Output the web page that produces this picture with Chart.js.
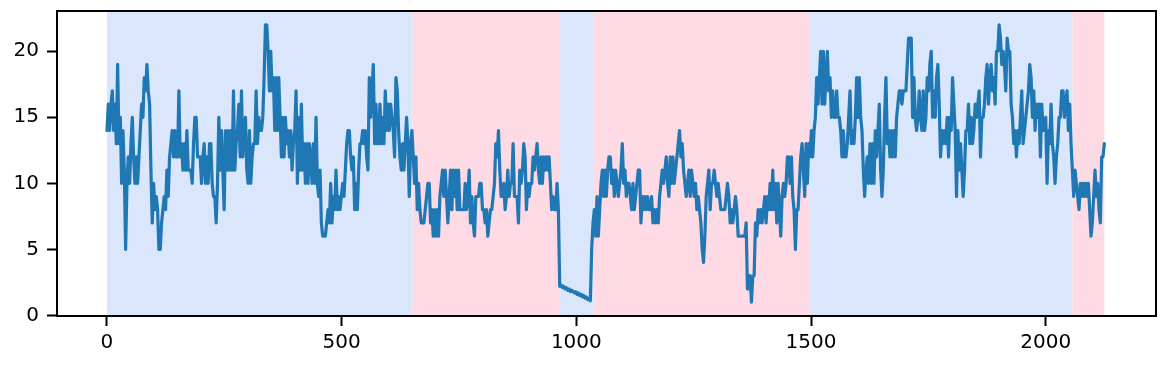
<!DOCTYPE html>
<html>
<head>
<meta charset="utf-8">
<script src="https://cdn.jsdelivr.net/npm/chart.js@4.4.1/dist/chart.umd.min.js"></script>
<style>
  html, body { margin: 0; padding: 0; background: #fff; }
  #wrap { width: 1165px; height: 366px; }
</style>
</head>
<body>
<div id="wrap"><canvas id="c" width="1165" height="366"></canvas></div>
<script>
// samples, one every SAMPLE_STEP x-units starting at x=0
const SAMPLE_STEP = 2.837;
const sampleValues = [
  // 0 .. ~220
  14,16,14,16,17,14,16,13,19,13, 15,10,14,11,5,10,12,10,13,15, 12,10,12,10,12,14,16,15,18,17,
  19,17,16,11,7,10,8,9,8,5, 5,7,8,9,8,11,9,12,13,14, 12,14,12,12,17,12,13,11,13,11,
  14,11,11,11,10,13,15,15,12,12, 12,10,12,13,10,12,10,13,
  // ~220 .. ~435
  13,10,9,9,7,10,15,11,14,11, 8,14,11,14,11,14,11,17,11,13, 14,16,12,17,12,14,15,11,10,14,
  10,12,13,13,17,13,15,14,14,15, 18,22,22,20,17,20,17,18,14,18, 14,18,15,12,15,12,15,13,14,12,
  14,11,13,14,17,10,15,11,16,11, 13,10,13,10,13,
  // ~435 .. ~645
  12,10,13,10,15,10,9,11,7,6, 6,6,7,8,7,10,7,9,8,11, 8,9,8,9,10,9,11,13,14,14,
  12,11,12,8,10,8,11,13,13,14, 13,14,12,11,18,15,17,19,13,16, 13,13,16,13,15,13,17,14,16,14,
  16,15,14,12,18,17,14,12,11,13, 11,13,15,13,9,
  // ~645 .. ~860
  13,14,12,10,12,8,10,8,7,7, 7,8,9,10,10,7,8,6,8,6, 8,6,9,10,11,9,11,9,7,9,
  11,8,11,9,11,8,11,8,8,8, 8,10,8,9,11,7,9,7,6,9, 9,9,10,10,8,8,7,8,6,7,
  8,8,9,10,13,12,14,11,9,9, 10,8,9,11,9,
  // ~860 .. ~1070
  10,10,13,9,9,9,7,11,10,11, 13,12,8,10,9,10,10,12,11,12, 13,11,10,12,10,12,11,12,11,12,
  10,8,9,8,8,10,8,
  2.2,2.3,2.1,2.2,2.0,2.1,1.9,2.0,1.8,1.9,1.8,1.7,1.8,1.6,1.7,1.5,1.6,1.4,1.5,1.3,1.4,1.2,1.3,1.1,
  5,7,8,6,9,6,8,10,11,9, 11,9,11,12,
  // ~1070 .. ~1285
  12,10,11,9,11,10,9,10,11,13, 10,11,9,10,10,9,8,10,8,9, 10,11,11,7,9,8,9,8,9,8,
  8,9,7,8,7,8,7,9,10,11, 10,11,12,10,9,12,10,12,10,11, 12,13,14,12,13,11,10,9,10,11,
  9,11,10,9,10,8,9,8,7,5, 4,6,9,10,11,
  // ~1285 .. ~1495
  8,10,10,11,10,9,10,9,8,8, 8,8,9,10,9,7,8,7,8,9, 8,6,6,6,6,6,6,7,2,2,
  3,1,3,3,7,6,8,7,8,7, 8,9,7,9,8,10,8,11,8,10, 7,10,8,6,9,10,9,10,12,12,
  10,12,9,8,5,8,8,10,12,13, 11,9,13,10,13,
  // ~1495 .. ~1710
  12,14,12,14,15,18,16,18,20,16, 20,16,18,20,17,18,15,17,15,15, 17,15,15,14,12,14,12,12,13,15,
  17,13,14,13,15,18,15,18,15,14, 11,9,11,12,10,13,10,13,10,14, 12,14,16,11,9,11,15,18,13,14,
  12,14,12,14,12,15,16,17,17,16, 17,17,17,19,21,
  // ~1710 .. ~1920
  21,21,15,18,15,14,15,17,15,14, 17,14,15,18,17,19,20,15,17,15, 18,19,16,12,14,13,14,13,15,12,
  15,14,18,16,14,9,14,11,13,11, 9,11,14,14,16,13,15,13,14,16, 15,16,17,12,15,15,16,18,19,16,
  18,19,17,18,16,20,20,22,21,19, 20,19,17,21,20,
  // ~1920 .. end
  20,16,15,13,14,12,14,13,15,17, 13,14,15,16,17,19,18,15,17,14, 16,15,16,12,16,14,14,15,10,14,
  13,16,13,12,10,12,13,15,15,17, 17,15,16,17,14,16,13,11,9,11, 10,9,8,10,9,10,9,10,9,10,
  8,6,7,9,11,9,10,8,7,12, 12,13
];

// shaded regimes along x
const spanStart  = [0,   651, 963,  1036, 1496, 2057];
const spanEnd    = [651, 963, 1036, 1496, 2057, 2125];
const spanRegime = ['up', 'down', 'up', 'down', 'up', 'down'];

const xTicks = [0, 500, 1000, 1500, 2000];
const yTicks = [0, 5, 10, 15, 20];

const regimeColor = { up: 'rgb(218,230,252)', down: 'rgb(253,218,228)' };
const FONT = { family: 'DejaVu Sans', size: 20 };

const points = sampleValues.map((v, i) => ({ x: i * SAMPLE_STEP, y: v }));

const spansPlugin = {
  id: 'spans',
  beforeDatasetsDraw(chart) {
    const { ctx, chartArea: a, scales: { x } } = chart;
    ctx.save();
    spanStart.forEach((s, i) => {
      const x0 = x.getPixelForValue(s), x1 = x.getPixelForValue(spanEnd[i]);
      ctx.fillStyle = regimeColor[spanRegime[i]];
      ctx.fillRect(x0, a.top, x1 - x0, a.bottom - a.top);
    });
    ctx.restore();
  }
};

const framePlugin = {
  id: 'frame',
  afterDraw(chart) {
    const { ctx, chartArea: a } = chart;
    ctx.save();
    ctx.strokeStyle = '#000';
    ctx.lineWidth = 2;
    ctx.strokeRect(a.left, a.top, a.right - a.left, a.bottom - a.top);
    ctx.restore();
  }
};

new Chart(document.getElementById('c').getContext('2d'), {
  type: 'line',
  data: {
    datasets: [{
      data: points,
      borderColor: '#1f77b4',
      borderWidth: 3.2,
      borderJoinStyle: 'round',
      borderCapStyle: 'round',
      pointRadius: 0,
      tension: 0,
      fill: false
    }]
  },
  options: {
    responsive: false,
    animation: false,
    layout: { padding: { top: 11, right: 9, left: 0, bottom: 0 } },
    plugins: { legend: { display: false }, tooltip: { enabled: false } },
    scales: {
      x: {
        type: 'linear', min: -106.5, max: 2235,
        afterBuildTicks: s => { s.ticks = xTicks.map(v => ({ value: v })); },
        afterFit: s => { s.height = 50; },
        grid: { drawOnChartArea: false, drawTicks: true, tickLength: 10, tickColor: '#000', tickWidth: 2 },
        border: { display: false },
        ticks: { color: '#000', font: FONT, padding: 5, maxRotation: 0, callback: v => String(v) }
      },
      y: {
        min: -0.05, max: 23.05,
        afterBuildTicks: s => { s.ticks = yTicks.map(v => ({ value: v })); },
        afterFit: s => { s.width = 57; s.paddingTop = 0; },
        grid: { drawOnChartArea: false, drawTicks: true, tickLength: 10, tickColor: '#000', tickWidth: 2 },
        border: { display: false },
        ticks: { color: '#000', font: FONT, padding: 8, callback: v => String(v) }
      }
    }
  },
  plugins: [spansPlugin, framePlugin]
});
</script>
</body>
</html>
